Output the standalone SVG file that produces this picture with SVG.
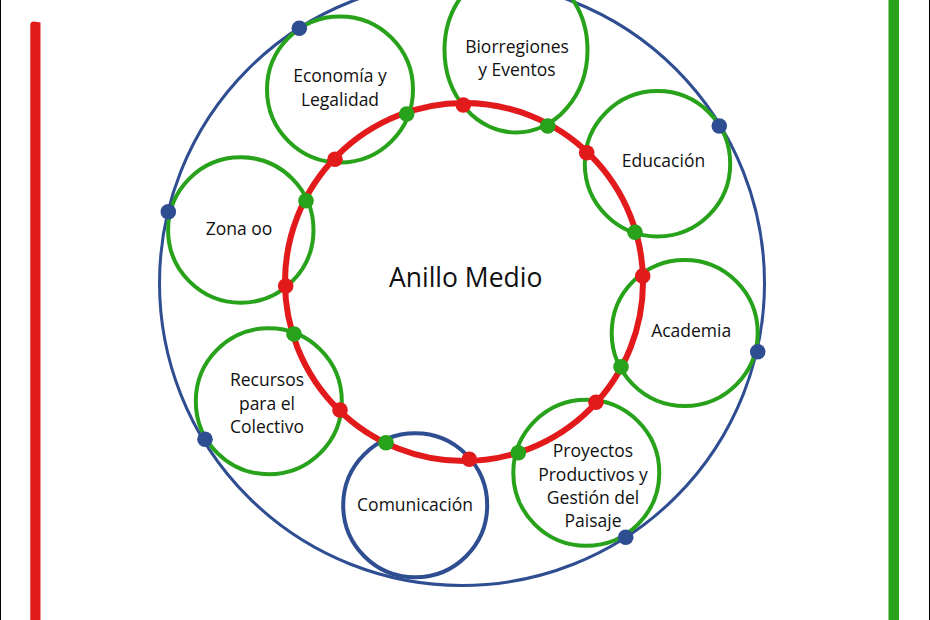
<svg xmlns="http://www.w3.org/2000/svg" width="930" height="620" viewBox="0 0 930 620">
<style>
.bg{fill:#ffffff}
.node{fill:none;stroke:#27A21A;stroke-width:4}
.nodeb{fill:none;stroke:#2F4E92;stroke-width:4}
.outer{fill:none;stroke:#2F4E92;stroke-width:3}
.ring{fill:none;stroke:#E31A1C;stroke-width:6}
.dr{fill:#E31A1C}
.dg{fill:#27A21A}
.db{fill:#2F4E92}
text{font-family:"Open Sans","Liberation Sans",sans-serif;font-size:17.5px;fill:#111111;text-anchor:middle}
.title{font-size:26.5px}
</style>
<rect class="bg" x="0" y="0" width="930" height="620"/>
<line x1="0.5" y1="0" x2="0.5" y2="620" stroke="#000" stroke-width="1"/>
<line x1="929.5" y1="0" x2="929.5" y2="620" stroke="#000" stroke-width="1"/>
<path d="M30.3,620 L30.3,24 Q31,21 34,21.5 L40.5,22.5 L40.5,620 Z" fill="#E31A1C"/>
<rect x="888.5" y="0" width="10.5" height="620" fill="#27A21A"/>
<g id="outer-ring">
<circle class="outer" cx="462" cy="283" r="302.5"/>
</g>
<g id="node-economia">
<circle class="node" cx="340" cy="89.5" r="73"/>
<text x="340" y="82">Economía y</text>
<text x="340" y="105.5">Legalidad</text>
</g>
<g id="node-biorregiones">
<ellipse class="node" cx="516" cy="50" rx="71.5" ry="82.5"/>
<text x="517" y="52.5">Biorregiones</text>
<text x="517" y="75.5">y Eventos</text>
</g>
<g id="node-educacion">
<circle class="node" cx="657.5" cy="163.7" r="72.7"/>
<text x="663.5" y="166.7">Educación</text>
</g>
<g id="node-zona">
<circle class="node" cx="240.8" cy="230" r="72.7"/>
<text x="239" y="235">Zona oo</text>
</g>
<g id="node-academia">
<circle class="node" cx="684.7" cy="333" r="73"/>
<text x="691.2" y="337">Academia</text>
</g>
<g id="node-recursos">
<circle class="node" cx="268.8" cy="401.2" r="73"/>
<text x="267" y="386">Recursos</text>
<text x="267" y="409.5">para el</text>
<text x="267" y="433">Colectivo</text>
</g>
<g id="node-comunicacion">
<circle class="nodeb" cx="415.2" cy="505.3" r="72"/>
<text x="415" y="510.7">Comunicación</text>
</g>
<g id="node-proyectos">
<circle class="node" cx="586.3" cy="472.7" r="73"/>
<text x="593" y="457.3">Proyectos</text>
<text x="593" y="480.5">Productivos y</text>
<text x="593" y="504">Gestión del</text>
<text x="593" y="527">Paisaje</text>
</g>
<g id="connectors">
<circle class="ring" cx="464" cy="282" r="179"/>
<circle class="dr" cx="335" cy="159.3" r="7.8"/>
<circle class="dr" cx="285.7" cy="286" r="7.8"/>
<circle class="dr" cx="463.3" cy="105" r="7.8"/>
<circle class="dr" cx="586.7" cy="152.7" r="7.8"/>
<circle class="dr" cx="642.7" cy="276" r="7.8"/>
<circle class="dr" cx="340" cy="410" r="7.8"/>
<circle class="dr" cx="469.3" cy="459.3" r="7.8"/>
<circle class="dr" cx="596" cy="402.3" r="7.8"/>
<circle class="dg" cx="406.7" cy="114" r="7.8"/>
<circle class="dg" cx="306" cy="200.7" r="7.8"/>
<circle class="dg" cx="547.7" cy="126" r="7.8"/>
<circle class="dg" cx="635" cy="232.3" r="7.8"/>
<circle class="dg" cx="294" cy="334" r="7.8"/>
<circle class="dg" cx="386" cy="442.7" r="7.8"/>
<circle class="dg" cx="621" cy="366.7" r="7.8"/>
<circle class="dg" cx="518.3" cy="452.7" r="7.8"/>
<circle class="db" cx="299.3" cy="28.3" r="7.8"/>
<circle class="db" cx="168.3" cy="211.7" r="7.8"/>
<circle class="db" cx="719.3" cy="126" r="7.8"/>
<circle class="db" cx="757.7" cy="351.7" r="7.8"/>
<circle class="db" cx="205" cy="439.3" r="7.8"/>
<circle class="db" cx="625.7" cy="537.3" r="7.8"/>
</g>
<g id="center-label">
<text class="title" x="465.7" y="287.3">Anillo Medio</text>
</g>
</svg>
